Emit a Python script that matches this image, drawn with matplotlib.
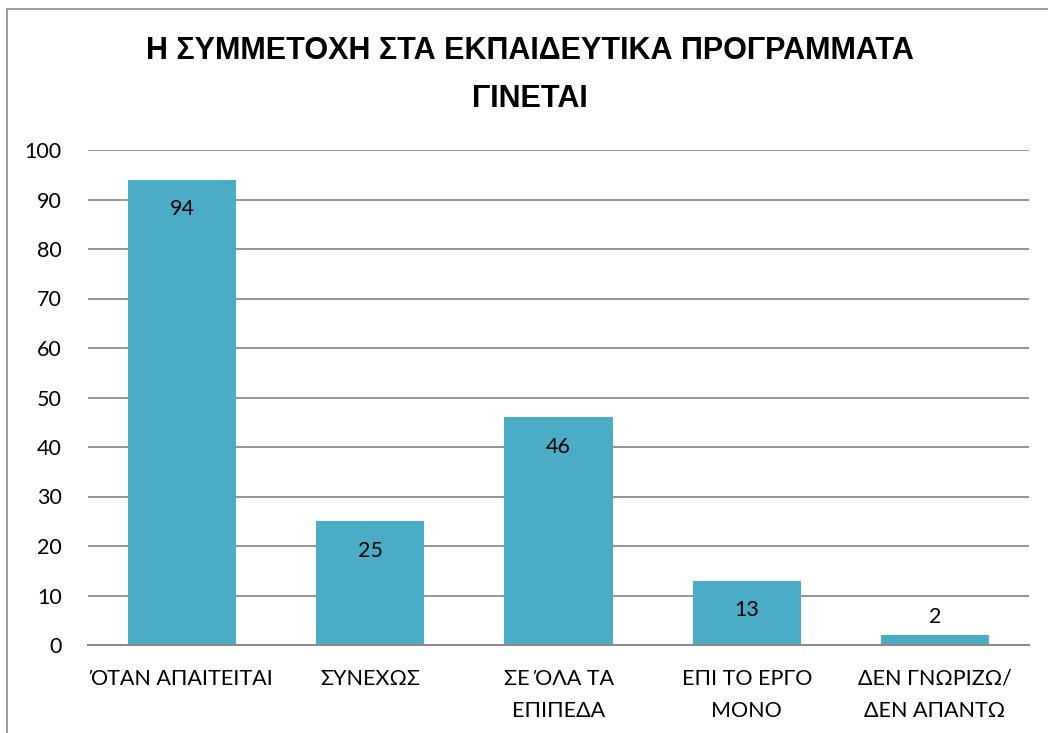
import matplotlib.pyplot as plt
from matplotlib.patches import Rectangle

# Δεδομένα
categories = ['ΌΤΑΝ ΑΠΑΙΤΕΙΤΑΙ', 'ΣΥΝΕΧΩΣ', 'ΣΕ ΌΛΑ ΤΑ\nΕΠΙΠΕΔΑ', 'ΕΠΙ ΤΟ ΕΡΓΟ\nΜΟΝΟ', 'ΔΕΝ ΓΝΩΡΙΖΩ/\nΔΕΝ ΑΠΑΝΤΩ']
values = [94, 25, 46, 13, 2]
yticks = list(range(0, 101, 10))
title = 'Η ΣΥΜΜΕΤΟΧΗ ΣΤΑ ΕΚΠΑΙΔΕΥΤΙΚΑ ΠΡΟΓΡΑΜΜΑΤΑ\nΓΙΝΕΤΑΙ'

plt.rcParams['font.family'] = ['Lato', 'DejaVu Sans']

fig = plt.figure(figsize=(10.48, 7.33), dpi=100)
W, H = 1048, 733
ax = fig.add_axes([88 / W, 1 - 645 / H, (1029 - 88) / W, (645 - 150) / H])

# Πλαίσιο γραφήματος
fig.patches.append(Rectangle((7 / W, -0.1), 1.2, 1 - 9 / H + 0.1, transform=fig.transFigure,
                             fill=False, edgecolor='#8c8c8c', linewidth=1.2))

x = list(range(len(categories)))
bars = ax.bar(x, values, width=0.575, color='#4BACC6', zorder=3)

for xi, v in zip(x, values):
    if v > 10:
        ax.text(xi, v - 6, str(v), ha='center', va='center', fontsize=15.5, color='black', zorder=4)
    else:
        ax.text(xi, v + 3.7, str(v), ha='center', va='center', fontsize=15.5, color='black', zorder=4)

ax.set_xlim(-0.5, len(categories) - 0.5)
ax.set_ylim(0, 100)
ax.set_yticks(yticks)
ax.set_xticks(x)
ax.set_xticklabels(categories, fontsize=15.5, linespacing=1.8)
ax.tick_params(axis='y', labelsize=15.5, length=0, pad=19)
ax.tick_params(axis='x', length=0, pad=17)
ax.yaxis.grid(True, color='#8c8c8c', linewidth=1.3, zorder=0)
for s in ['top', 'right', 'left']:
    ax.spines[s].set_visible(False)
ax.spines['bottom'].set_color('#8c8c8c')
ax.spines['bottom'].set_linewidth(1.5)
ax.spines['bottom'].set_zorder(5)

fig.text(530 / W, 1 - 75 / H, title, ha='center', va='center', fontsize=22,
         fontweight='bold', family=['Liberation Sans', 'DejaVu Sans'], linespacing=1.75)

fig.savefig('out.png', dpi=100)
